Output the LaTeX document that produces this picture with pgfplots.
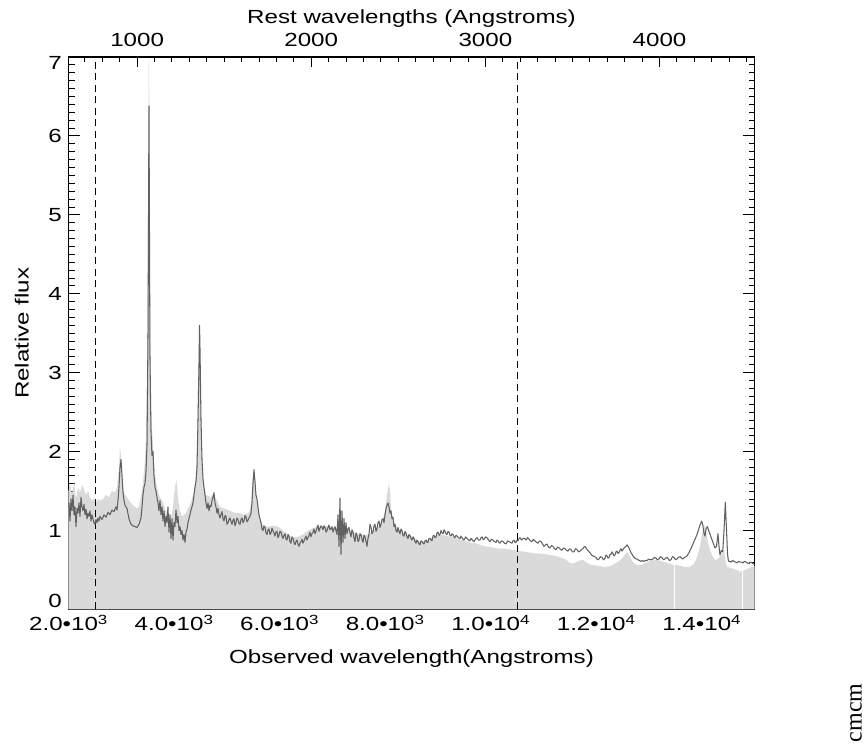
\documentclass[border=0pt]{standalone}
\usepackage{fontspec}
\setmainfont{Liberation Sans}[FakeStretch=1.27]
\newfontfamily\serifcm{Liberation Serif}
\usepackage{pgfplots}
\pgfplotsset{compat=1.18}
\definecolor{specline}{gray}{0.38}
\definecolor{specfill}{gray}{0.855}
\newcommand{\fs}{\fontsize{19}{21}\selectfont}
\newcommand{\yl}[2]{\smash{\raisebox{#1}{#2}}}
\begin{document}
\begin{tikzpicture}[x=1pt,y=1pt]
\path[use as bounding box] (0,0) rectangle (867,755);
\begin{axis}[
  at={(68.5pt,145.5pt)}, anchor=south west,
  width=686pt, height=552.5pt, scale only axis,
  xmin=2000, xmax=15000, ymin=0, ymax=7,
  scaled x ticks=false, scaled y ticks=false,
  xtick={2000,4000,6000,8000,10000,12000,14000},
  xticklabels={2.0\textbullet10\textsuperscript{3},4.0\textbullet10\textsuperscript{3},6.0\textbullet10\textsuperscript{3},8.0\textbullet10\textsuperscript{3},1.0\textbullet10\textsuperscript{4},1.2\textbullet10\textsuperscript{4},1.4\textbullet10\textsuperscript{4}},
  xtick pos=lower,
  ytick={0,1,...,7}, minor y tick num=9,
  yticklabels={\yl{1.7pt}{0},\yl{-6.8pt}{1},\yl{-6.8pt}{2},\yl{-6.8pt}{3},\yl{-6.8pt}{4},\yl{-6.8pt}{5},\yl{-6.8pt}{6},\yl{-12.8pt}{7}},
  ytick pos=both, yticklabel pos=left,
  tick align=inside,
  major tick length=11.5pt, minor tick length=6pt,
  every tick/.style={black, line width=0.9pt},
  axis line style={line width=1.2pt},
  /pgf/number format/assume math mode=true,
  tick label style={font=\fs},
  label style={font=\fs},
  xticklabel style={anchor=base, inner sep=0pt, yshift=-21pt},
  yticklabel style={anchor=east, inner sep=0pt, xshift=-6.5pt},
  xlabel={Observed wavelength(Angstroms)},
  xlabel style={at={(axis description cs:0.5,-0.088)}, anchor=center},
  ylabel={Relative flux},
  ylabel style={at={(axis description cs:-0.068,0.5)}, anchor=center},
]
\addplot[draw=none, fill=specfill] table {
x y
2000 1.50
2028 1.60
2066 1.45
2104 1.62
2142 1.40
2180 1.55
2218 1.48
2256 1.58
2294 1.52
2332 1.45
2370 1.50
2408 1.42
2445 1.38
2483 1.40
2521 1.36
2559 1.40
2597 1.38
2654 1.40
2711 1.45
2767 1.42
2824 1.50
2881 1.48
2919 1.55
2957 1.80
2976 2.06
2995 1.95
3014 1.70
3033 1.55
3071 1.45
3108 1.42
3146 1.38
3184 1.35
3222 1.32
3260 1.30
3298 1.28
3336 1.30
3374 1.45
3412 1.60
3450 1.90
3469 2.20
3488 3.00
3507 5.00
3525 7.50
3544 4.20
3563 2.60
3582 2.30
3601 2.10
3620 1.85
3639 1.70
3677 1.55
3715 1.45
3753 1.40
3791 1.35
3829 1.28
3866 1.20
3904 1.12
3942 1.15
3980 1.30
4018 1.55
4046 1.64
4075 1.40
4113 1.25
4151 1.18
4189 1.20
4227 1.22
4264 1.28
4302 1.32
4340 1.40
4378 1.50
4416 1.70
4435 2.00
4454 2.80
4473 3.40
4483 3.55
4492 3.20
4511 2.50
4530 2.00
4549 1.70
4568 1.55
4606 1.45
4644 1.44
4681 1.42
4719 1.45
4757 1.45
4795 1.40
4833 1.35
4871 1.30
4947 1.28
5023 1.26
5098 1.24
5174 1.22
5250 1.22
5326 1.20
5401 1.22
5439 1.25
5477 1.45
5496 1.70
5515 1.80
5534 1.65
5553 1.45
5591 1.30
5629 1.15
5686 1.06
5780 1.05
5875 1.06
5970 1.05
6065 1.00
6160 0.95
6254 0.92
6349 0.92
6444 0.95
6538 1.00
6633 1.03
6728 1.05
6823 1.06
6918 1.05
7012 1.04
7107 1.03
7202 1.02
7296 1.01
7391 0.98
7486 0.96
7581 0.94
7675 0.95
7770 1.00
7865 1.05
7941 1.10
7998 1.25
8035 1.45
8073 1.60
8092 1.50
8111 1.30
8149 1.15
8206 1.06
8282 1.00
8377 0.96
8471 0.93
8566 0.90
8661 0.86
8756 0.87
8850 0.90
8945 0.93
9040 0.95
9135 0.94
9230 0.92
9324 0.91
9419 0.89
9514 0.87
9608 0.85
9703 0.84
9798 0.82
9893 0.80
9988 0.79
10082 0.78
10177 0.77
10272 0.77
10367 0.76
10461 0.75
10556 0.74
10651 0.73
10746 0.72
10840 0.71
10935 0.71
11030 0.70
11124 0.69
11219 0.68
11314 0.66
11409 0.64
11503 0.59
11560 0.58
11617 0.60
11693 0.62
11750 0.63
11807 0.60
11883 0.57
11977 0.56
12072 0.55
12167 0.54
12262 0.55
12356 0.58
12451 0.62
12527 0.68
12584 0.73
12640 0.67
12697 0.60
12773 0.56
12868 0.57
12963 0.60
13057 0.62
13152 0.63
13247 0.61
13342 0.59
13436 0.57
13550 0.56
13664 0.54
13778 0.54
13853 0.58
13910 0.66
13967 0.80
14005 0.95
14043 1.05
14062 1.06
14081 1.00
14119 0.85
14157 0.75
14213 0.66
14270 0.62
14346 0.67
14403 0.72
14422 0.75
14450 0.62
14479 0.54
14535 0.53
14630 0.51
14725 0.48
14820 0.50
14915 0.53
15000 0.55
} \closedcycle;
\addplot[white, line width=1pt] coordinates {(13480,0) (13480,0.58)};
\addplot[white, line width=1pt] coordinates {(14776,0) (14776,0.52)};
\addplot[black, line width=0.9pt, dash pattern=on 7pt off 4.5pt] coordinates {(2515,0) (2515,7)};
\addplot[black, line width=0.9pt, dash pattern=on 7pt off 4.5pt] coordinates {(10505,0) (10505,7)};
\addplot[specline, line width=1.05pt, line join=round] table {
x y
2000 1.30
2010 1.35
2028 1.12
2047 1.40
2066 1.25
2085 1.45
2104 1.20
2123 1.30
2142 1.05
2161 1.28
2180 1.22
2199 1.35
2218 1.18
2237 1.42
2256 1.30
2275 1.25
2294 1.33
2313 1.20
2332 1.27
2351 1.15
2370 1.22
2389 1.18
2408 1.25
2426 1.12
2445 1.20
2464 1.15
2483 1.10
2502 1.08
2521 1.14
2540 1.10
2559 1.16
2578 1.12
2597 1.18
2635 1.14
2673 1.20
2711 1.17
2749 1.23
2786 1.20
2824 1.26
2862 1.24
2900 1.30
2919 1.26
2938 1.38
2957 1.55
2976 1.80
2995 1.90
3014 1.70
3033 1.48
3052 1.38
3071 1.32
3108 1.28
3146 1.15
3184 1.08
3222 1.06
3260 1.05
3298 1.04
3336 1.08
3374 1.16
3393 1.30
3412 1.45
3431 1.55
3450 1.60
3469 1.75
3488 2.10
3507 3.50
3525 6.38
3544 3.20
3563 2.27
3582 1.95
3601 2.00
3620 1.70
3639 1.55
3658 1.50
3677 1.42
3696 1.35
3715 1.25
3734 1.38
3753 1.20
3772 1.30
3791 1.12
3810 1.25
3829 1.05
3848 1.18
3866 1.10
3885 1.30
3904 0.98
3923 1.20
3942 0.90
3961 1.15
3980 0.88
3999 1.10
4018 1.05
4037 1.26
4056 1.10
4075 1.18
4094 1.00
4113 1.05
4132 0.95
4151 1.00
4170 0.88
4189 0.95
4208 0.85
4227 0.98
4246 1.02
4264 1.10
4283 1.15
4302 1.20
4321 1.26
4340 1.30
4359 1.35
4378 1.45
4397 1.55
4416 1.62
4435 1.80
4454 2.40
4473 3.10
4483 3.60
4492 3.30
4511 2.40
4530 1.90
4549 1.65
4568 1.55
4587 1.45
4606 1.35
4625 1.28
4644 1.35
4663 1.25
4681 1.32
4700 1.30
4719 1.38
4738 1.42
4757 1.48
4776 1.35
4795 1.30
4814 1.22
4833 1.28
4852 1.20
4871 1.16
4890 1.20
4909 1.24
4928 1.15
4947 1.12
4966 1.19
4985 1.18
5004 1.08
5023 1.10
5042 1.14
5060 1.16
5079 1.12
5098 1.08
5117 1.13
5136 1.15
5155 1.06
5174 1.10
5193 1.16
5212 1.14
5231 1.09
5250 1.08
5269 1.14
5288 1.16
5307 1.10
5326 1.12
5345 1.19
5364 1.17
5383 1.11
5401 1.13
5420 1.16
5439 1.18
5458 1.22
5477 1.35
5496 1.60
5515 1.77
5534 1.62
5553 1.45
5572 1.40
5591 1.30
5610 1.20
5629 1.15
5648 1.10
5667 1.02
5686 1.00
5705 1.06
5724 1.04
5743 0.97
5762 0.95
5781 1.01
5799 1.02
5818 0.95
5837 0.97
5856 1.03
5875 1.00
5894 0.97
5913 0.93
5932 0.98
5951 0.99
5970 0.91
5989 0.94
6008 0.99
6027 0.98
6046 0.93
6065 0.90
6084 0.94
6103 0.96
6122 0.89
6141 0.88
6160 0.95
6178 0.93
6197 0.86
6216 0.84
6235 0.92
6254 0.90
6273 0.85
6292 0.82
6311 0.86
6330 0.88
6349 0.83
6368 0.80
6387 0.84
6406 0.86
6425 0.89
6444 0.84
6463 0.87
6482 0.90
6501 0.93
6520 0.88
6539 0.91
6557 0.94
6576 0.98
6595 0.92
6614 0.96
6633 0.98
6652 1.02
6671 0.96
6690 0.99
6709 1.03
6728 1.07
6747 0.99
6766 1.03
6785 1.06
6804 1.04
6823 1.01
6842 1.06
6861 1.04
6880 0.98
6899 1.00
6918 1.04
6936 1.07
6955 1.01
6974 1.02
6993 1.05
7012 0.98
7031 1.02
7050 1.05
7069 1.00
7088 0.95
7107 1.20
7126 0.80
7145 1.41
7164 0.70
7183 1.25
7202 0.85
7221 1.15
7240 0.90
7258 1.10
7277 0.96
7296 1.02
7315 1.04
7334 0.97
7353 0.92
7372 1.01
7391 0.98
7410 0.91
7429 0.86
7448 0.97
7467 0.94
7486 0.86
7505 0.88
7524 0.96
7543 0.95
7562 0.89
7581 0.85
7600 0.94
7619 0.92
7638 0.86
7656 0.80
7675 0.90
7694 0.95
7713 1.08
7732 1.05
7751 0.96
7770 0.98
7789 1.06
7808 1.08
7827 0.99
7846 1.02
7865 1.10
7884 1.12
7903 1.04
7922 1.08
7941 1.14
7960 1.15
7979 1.10
7998 1.20
8017 1.28
8035 1.32
8054 1.35
8073 1.30
8092 1.22
8111 1.25
8130 1.15
8149 1.17
8168 1.05
8187 1.08
8206 1.00
8225 0.98
8244 1.04
8263 0.99
8282 0.96
8301 1.02
8320 1.00
8339 0.94
8358 0.93
8377 0.99
8396 0.97
8415 0.92
8433 0.90
8452 0.95
8471 0.94
8490 0.90
8509 0.88
8528 0.92
8547 0.90
8566 0.86
8585 0.84
8604 0.88
8623 0.86
8642 0.83
8661 0.82
8680 0.87
8699 0.86
8718 0.84
8737 0.83
8756 0.87
8775 0.88
8794 0.85
8812 0.85
8831 0.90
8850 0.90
8869 0.88
8888 0.87
8907 0.93
8926 0.94
8945 0.91
8964 0.92
8983 0.97
9002 0.98
9021 0.94
9040 0.95
9059 1.00
9078 0.97
9097 0.96
9116 1.01
9135 0.99
9154 0.96
9173 0.95
9192 0.99
9211 0.98
9230 0.94
9248 0.93
9267 0.96
9286 0.95
9305 0.92
9324 0.91
9343 0.94
9362 0.93
9390 0.91
9419 0.90
9438 0.93
9457 0.91
9476 0.89
9495 0.88
9524 0.92
9552 0.90
9580 0.88
9608 0.87
9627 0.90
9646 0.89
9665 0.87
9684 0.86
9712 0.89
9741 0.91
9770 0.88
9798 0.88
9817 0.91
9836 0.92
9855 0.89
9874 0.89
9903 0.92
9931 0.91
9960 0.88
9988 0.86
10016 0.89
10044 0.88
10073 0.86
10101 0.85
10120 0.88
10139 0.87
10158 0.85
10177 0.84
10206 0.87
10234 0.86
10263 0.84
10291 0.83
10320 0.87
10348 0.86
10376 0.85
10404 0.84
10423 0.87
10442 0.88
10461 0.85
10480 0.85
10499 0.88
10518 0.87
10537 0.90
10556 0.91
10585 0.88
10613 0.90
10642 0.90
10670 0.88
10699 0.91
10727 0.89
10755 0.87
10783 0.86
10812 0.89
10840 0.87
10869 0.85
10897 0.84
10926 0.87
10954 0.86
10983 0.83
11011 0.80
11040 0.82
11068 0.83
11096 0.79
11124 0.78
11153 0.81
11181 0.80
11210 0.77
11238 0.76
11267 0.79
11295 0.78
11324 0.76
11352 0.75
11381 0.78
11409 0.77
11438 0.75
11466 0.74
11494 0.77
11522 0.76
11551 0.73
11579 0.73
11608 0.77
11636 0.76
11665 0.73
11693 0.74
11722 0.76
11750 0.77
11769 0.79
11788 0.80
11807 0.78
11826 0.76
11855 0.74
11883 0.72
11911 0.69
11939 0.68
11968 0.67
11996 0.66
12025 0.63
12053 0.64
12082 0.67
12110 0.66
12139 0.63
12167 0.65
12186 0.69
12205 0.68
12224 0.65
12243 0.66
12262 0.70
12281 0.70
12300 0.73
12318 0.71
12337 0.68
12356 0.69
12375 0.73
12394 0.74
12413 0.71
12432 0.72
12451 0.75
12470 0.77
12489 0.74
12508 0.76
12527 0.78
12546 0.79
12565 0.80
12584 0.82
12603 0.80
12622 0.78
12640 0.75
12659 0.72
12678 0.70
12697 0.68
12716 0.66
12735 0.65
12763 0.64
12792 0.63
12820 0.62
12849 0.61
12877 0.62
12906 0.61
12934 0.62
12963 0.62
12991 0.64
13019 0.63
13047 0.63
13076 0.64
13104 0.66
13133 0.65
13161 0.63
13190 0.64
13218 0.67
13247 0.66
13275 0.63
13304 0.64
13332 0.66
13361 0.65
13389 0.62
13417 0.63
13446 0.67
13474 0.66
13502 0.63
13531 0.64
13559 0.66
13588 0.67
13616 0.65
13645 0.64
13673 0.66
13702 0.67
13721 0.68
13740 0.70
13759 0.72
13778 0.75
13796 0.77
13815 0.80
13834 0.83
13853 0.86
13872 0.89
13891 0.92
13910 0.95
13929 0.99
13948 1.03
13967 1.07
13985 1.10
13999 1.12
14012 1.09
14024 1.06
14043 0.96
14062 0.93
14081 1.02
14106 1.05
14138 0.99
14175 0.92
14213 0.85
14251 0.78
14280 0.80
14308 0.96
14327 0.80
14346 0.69
14375 0.75
14398 0.73
14422 1.00
14447 1.36
14470 1.00
14489 0.70
14507 0.61
14530 0.61
14555 0.60
14584 0.62
14612 0.61
14641 0.60
14669 0.59
14697 0.61
14725 0.60
14754 0.60
14782 0.59
14811 0.61
14839 0.60
14868 0.59
14896 0.58
14924 0.60
14953 0.59
14981 0.58
15000 0.57
};
\end{axis}
\begin{axis}[
  at={(68.5pt,145.5pt)}, anchor=south west,
  width=686pt, height=552.5pt, scale only axis,
  xmin=606.06, xmax=4545.45, ymin=0, ymax=7,
  axis x line*=top, axis y line=none,
  scaled x ticks=false,
  xtick={1000,2000,3000,4000},
  minor xtick={700,800,900,1100,1200,1300,1400,1500,1600,1700,1800,1900,2100,2200,2300,2400,2500,2600,2700,2800,2900,3100,3200,3300,3400,3500,3600,3700,3800,3900,4100,4200,4300,4400,4500},
  tick align=inside,
  major tick length=10pt, minor tick length=5pt,
  every tick/.style={black, line width=0.9pt},
  axis line style={line width=1.2pt},
  /pgf/number format/assume math mode=true,
  /pgf/number format/1000 sep={},
  tick label style={font=\fs},
  label style={font=\fs},
  xticklabel style={anchor=base, inner sep=0pt, yshift=10.3pt},
  xlabel={Rest wavelengths (Angstroms)},
  xlabel style={at={(axis description cs:0.5,1.069)}, anchor=center},
]
\addplot[draw=none] coordinates {(1000,1)};
\end{axis}
\node[rotate=90, inner sep=0pt, font=\serifcm\fontsize{24}{26}\selectfont] at (856,42) {cmcm};
\end{tikzpicture}
\end{document}
